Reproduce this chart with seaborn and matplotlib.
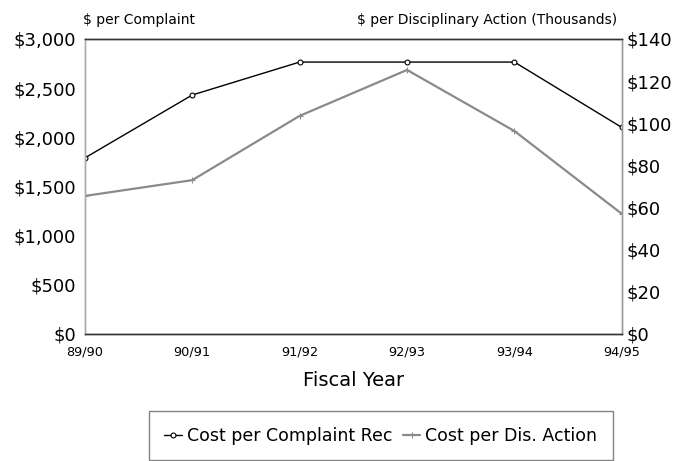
import matplotlib
matplotlib.use("Agg")
import matplotlib.pyplot as plt
import seaborn as sns
import pandas as pd
from matplotlib.ticker import FuncFormatter

years = ["89/90", "90/91", "91/92", "92/93", "93/94", "94/95"]
cost_per_complaint = [1790, 2430, 2765, 2765, 2765, 2100]
cost_per_action = [65.5, 73, 103.5, 125.3, 96.3, 57]

sns.set_style("white")
plt.rcParams['font.family'] = ['DejaVu Sans']
plt.rcParams['text.color'] = 'black'
plt.rcParams['axes.labelcolor'] = 'black'
plt.rcParams['xtick.color'] = 'black'
plt.rcParams['ytick.color'] = 'black'

df1 = pd.DataFrame({"year": years, "value": cost_per_complaint})
df2 = pd.DataFrame({"year": years, "value": cost_per_action})

fig = plt.figure(figsize=(6.73, 4.61), dpi=100)
ax = fig.add_axes([0.126, 0.2755, 0.798, 0.64])
ax2 = ax.twinx()

sns.lineplot(data=df1, x="year", y="value", ax=ax, color="black", lw=1.0,
             marker="o", markersize=3.5, markerfacecolor="white",
             markeredgecolor="black", markeredgewidth=0.8,
             label="Cost per Complaint Rec", legend=False)
sns.lineplot(data=df2, x="year", y="value", ax=ax2, color="#8a8a8a", lw=1.6,
             marker="+", markersize=4, markeredgecolor="#8a8a8a",
             label="Cost per Dis. Action", legend=False)

ax.set_xlim(0, 5)
ax.set_ylim(0, 3000)
ax2.set_ylim(0, 140)
ax.set_yticks([0, 500, 1000, 1500, 2000, 2500, 3000])
ax2.set_yticks([0, 20, 40, 60, 80, 100, 120, 140])
ax.yaxis.set_major_formatter(FuncFormatter(lambda v, p: f"${v:,.0f}"))
ax2.yaxis.set_major_formatter(FuncFormatter(lambda v, p: f"${v:,.0f}"))

ax.tick_params(axis="y", labelsize=13, length=0, pad=6.5, labelcolor="black")
ax2.tick_params(axis="y", labelsize=13, length=0, pad=3.6, labelcolor="black")
ax.tick_params(axis="x", labelsize=9.3, length=0, pad=8.5, labelcolor="black")
ax.set_xlabel("Fiscal Year", fontsize=14, labelpad=9, color="black")
ax.set_ylabel("")
ax2.set_ylabel("")

for a in (ax, ax2):
    for s in a.spines.values():
        s.set_visible(True)
        s.set_linewidth(1.0)
    a.spines["left"].set_color("#aaaaaa")
    a.spines["right"].set_color("#999999")
    a.spines["top"].set_color("#333333")
    a.spines["bottom"].set_color("#333333")

fig.text(83 / 673, 1 - 24 / 461, "$ per Complaint", fontsize=10,
         ha="left", va="baseline", color="black")
fig.text(617 / 673, 1 - 24 / 461, "$ per Disciplinary Action (Thousands)",
         fontsize=10, ha="right", va="baseline", color="black")

h1, l1 = ax.get_legend_handles_labels()
h2, l2 = ax2.get_legend_handles_labels()
leg = fig.legend(h1 + h2, l1 + l2, loc="upper center",
                 bbox_to_anchor=(0.566, 1 - 411 / 461), ncol=2, fontsize=12.5,
                 frameon=True, fancybox=False, handlelength=1.0,
                 handletextpad=0.3, columnspacing=0.6, borderpad=0.9,
                 borderaxespad=0, edgecolor="#666666", labelcolor="black")
leg.get_frame().set_linewidth(1.0)

fig.savefig("out.png", dpi=100)
